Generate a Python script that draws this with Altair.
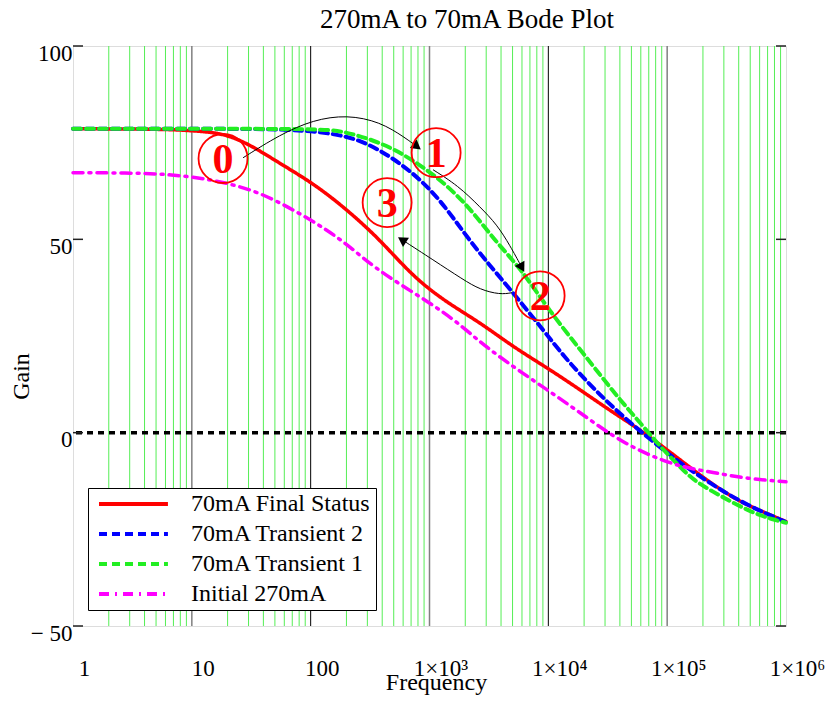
import altair as alt
import pandas as pd

FONT = "Liberation Serif"

TITLE = ["270mA to 70mA Bode Plot"]
X_TITLE = "Frequency"
Y_TITLE = "Gain"

# ---------------- series ----------------
series_names = ["70mA Final Status", "70mA Transient 2", "70mA Transient 1", "Initial 270mA"]
series_colors = ["#ff0000", "#0000ff", "#22ee22", "#ff00ff"]
series_dashes = [[1, 0], [8, 5], [8, 5], [10, 6, 2, 6]]
series_widths = [3.5, 4, 4, 3.5]

final_freq = [1, 6.2, 9.7, 17.3, 29.1, 55.2, 105, 202, 384, 727, 1404, 2662, 5047, 9750,
              18490, 35000, 55700, 99700, 165000, 243000, 358000, 527000, 1000000]
final_gain = [78.6, 78.5, 78.1, 77.6, 75.0, 69.6, 64.5, 57.7, 49.9, 40.3, 33.6, 28.5, 22.2, 16.8,
              11.1, 5.2, 1.3, -4.4, -9.6, -13.4, -16.8, -19.4, -23.0]

t2_freq = [1, 29.1, 71, 202, 384, 727, 1225, 1914, 2931, 5047, 9020, 13800, 21150, 31200,
           48700, 76000, 128000, 243000, 470000, 1000000]
t2_gain = [78.6, 78.6, 78.4, 77.1, 73.2, 67.3, 60.3, 52.0, 44.7, 36.2, 26.6, 19.4, 13.2, 8.0,
           2.6, -2.3, -7.8, -13.6, -18.8, -23.1]

t1_freq = [1, 29.1, 146, 202, 384, 727, 1404, 2324, 3700, 5780, 10330, 18490, 27200, 40100,
           59100, 87100, 128000, 165000, 243000, 358000, 527000, 778000, 1000000]
t1_gain = [78.6, 78.6, 78.5, 77.6, 75.2, 70.6, 64.1, 57.1, 49.0, 42.7, 31.3, 21.5, 15.0, 8.5,
           2.6, -3.6, -8.8, -12.2, -15.3, -18.1, -20.7, -22.5, -23.3]

init_freq = [1, 4.45, 10.2, 19.8, 37.5, 71, 137, 227, 384, 1404, 2662, 5047, 9750, 18490,
             35000, 67700, 128000, 243000, 470000, 1000000]
init_gain = [67.2, 67.2, 66.2, 64.6, 62.1, 57.7, 52.5, 47.5, 41.4, 31.0, 23.3, 17.1, 11.1, 5.2,
             -1.0, -5.7, -8.8, -10.3, -11.9, -12.7]

# ---------------- grid / ticks ----------------
decades = [1, 10, 100, 1000, 10000, 100000]
multipliers = [2, 3, 4, 5, 6, 7, 8, 9]
major_gray = [10, 1000, 100000]
major_black = [100, 10000]
x_tick_values = [1, 10, 100, 1000, 10000, 100000, 1000000]
y_tick_values = [-50, 0, 50, 100]
zero_level = [0]

# ---------------- annotations ----------------
circle_labels = ["0", "1", "2", "3"]
circle_freq = [18.3, 1137, 8530, 440]
circle_gain = [70.9, 72.4, 35.4, 59.5]

arrow_a_freq = [27.0, 55.2, 105, 202, 384, 622, 785]
arrow_a_gain = [71.1, 77.1, 80.9, 82.2, 80.4, 76.3, 74.0]
arrow_b_freq = [1071, 1738, 2662, 3700, 4757, 5998]
arrow_b_gain = [68.0, 63.9, 58.4, 53.8, 48.4, 42.7]
arrow_c_freq = [4945, 3920, 2662, 1914, 1071, 587]
arrow_c_gain = [36.2, 35.7, 37.0, 39.6, 44.7, 49.9]
head_freq = [785, 5998, 587]
head_gain = [74.0, 42.7, 49.9]
head_angle = [127, 151, 303]

# ---------------- tables ----------------
curve_rows = []
for name, fr, gn, w in zip(series_names,
                           [final_freq, t2_freq, t1_freq, init_freq],
                           [final_gain, t2_gain, t1_gain, init_gain],
                           series_widths):
    for f, g in zip(fr, gn):
        curve_rows.append({"series": name, "freq": f, "gain": g, "sw": w})
curves = pd.DataFrame(curve_rows)

minor_df = pd.DataFrame({"freq": [d * m for d in decades for m in multipliers]})
gray_df = pd.DataFrame({"freq": major_gray})
black_df = pd.DataFrame({"freq": major_black})
zero_df = pd.DataFrame({"gain": zero_level})
ytick_df = pd.DataFrame({"gain": y_tick_values})
title_df = pd.DataFrame({"t": TITLE})

arrow_rows = []
for aid, fr, gn in zip(["A", "B", "C"],
                       [arrow_a_freq, arrow_b_freq, arrow_c_freq],
                       [arrow_a_gain, arrow_b_gain, arrow_c_gain]):
    for i, (f, g) in enumerate(zip(fr, gn)):
        arrow_rows.append({"arrow": aid, "idx": i, "freq": f, "gain": g})
arrows = pd.DataFrame(arrow_rows)
heads = pd.DataFrame({"freq": head_freq, "gain": head_gain, "ang": head_angle})
circles = pd.DataFrame({"label": circle_labels, "freq": circle_freq, "gain": circle_gain})

# ---------------- scales / axes ----------------
x_scale = alt.Scale(type="log", domain=[1, 1000000], nice=False)
y_scale = alt.Scale(domain=[-50, 100], nice=False, zero=False)

x_label_expr = ("datum.value < 1000 ? format(datum.value, 'd') : "
                "('1×10' + (datum.value == 1000 ? '³' : datum.value == 10000 ? '⁴' : "
                "datum.value == 100000 ? '⁵' : '⁶'))")

x_axis = alt.Axis(values=x_tick_values, labelExpr=x_label_expr, grid=False, ticks=False,
                  tickSize=0, domain=False, labelFont=FONT, labelFontSize=23,
                  labelColor="black", labelPadding=49, labelBaseline="alphabetic",
                  labelOffset=11, labelFlush=False, labelOverlap=False,
                  title=X_TITLE, titleFont=FONT, titleFontSize=24, titleFontWeight="normal",
                  titleColor="black", titleX=363, titleY=63, titleAlign="center",
                  titleBaseline="alphabetic")
y_axis = alt.Axis(values=y_tick_values, labelExpr="datum.value < 0 ? '− 50' : datum.label",
                  grid=False, ticks=False, tickSize=0, domain=False, labelFont=FONT,
                  labelFontSize=23, labelColor="black", labelPadding=1, labelOffset=7,
                  labelFlush=False, labelOverlap=False, labelAlign="right",
                  labelBaseline="middle",
                  title=Y_TITLE, titleFont=FONT, titleFontSize=24, titleFontWeight="normal",
                  titleColor="black", titleAngle=270, titleX=-45, titleY=330,
                  titleAlign="center", titleBaseline="alphabetic")

X = alt.X("freq:Q", scale=x_scale, axis=x_axis)
Y = alt.Y("gain:Q", scale=y_scale, axis=y_axis)

legend = alt.Legend(title=None, orient="none", legendX=15, legendY=442,
                    symbolType="M0,0L12,0", symbolSize=132, symbolStrokeWidth=4,
                    symbolOffset=-5, labelOffset=80, labelFont=FONT, labelFontSize=24,
                    labelColor="black", labelLimit=400, padding=4, rowPadding=6,
                    strokeColor="black", fillColor="white")

# ---------------- layers ----------------
minor = alt.Chart(minor_df).mark_rule(color="#55ee55", strokeWidth=1).encode(x=X)
gray = alt.Chart(gray_df).mark_rule(color="#808080", strokeWidth=1.5).encode(x=X)
black = alt.Chart(black_df).mark_rule(color="#000000", strokeWidth=1).encode(x=X)
zero = alt.Chart(zero_df).mark_rule(color="black", strokeWidth=3.5,
                                    strokeDash=[6, 5]).encode(y=Y)

lines = alt.Chart(curves).mark_line(strokeCap="round", interpolate="basis").encode(
    x=X, y=Y,
    color=alt.Color("series:N", scale=alt.Scale(domain=series_names, range=series_colors),
                    legend=legend),
    strokeDash=alt.StrokeDash("series:N",
                              scale=alt.Scale(domain=series_names, range=series_dashes),
                              legend=legend),
    strokeWidth=alt.StrokeWidth("sw:Q", scale=None),
)

arrow_lines = alt.Chart(arrows).mark_line(interpolate="basis", color="black",
                                          strokeWidth=1).encode(
    x=X, y=Y, detail="arrow:N", order="idx:Q")
arrow_heads = alt.Chart(heads).mark_point(shape="triangle-up", filled=True, color="black",
                                          size=120, opacity=1).encode(
    x=X, y=Y, angle=alt.Angle("ang:Q", scale=None))
rings = alt.Chart(circles).mark_point(shape="circle", filled=False, color="#ff0000",
                                      size=2400, strokeWidth=1.8, opacity=1).encode(x=X, y=Y)
digits = alt.Chart(circles).mark_text(font=FONT, fontSize=42, fontWeight="bold",
                                      color="#ff0000", align="center",
                                      baseline="alphabetic", dy=14).encode(
    x=X, y=Y, text="label:N")

left_ticks = alt.Chart(ytick_df).mark_rule(color="#222222", strokeWidth=1.5).encode(
    y=Y, x=alt.value(0), x2=alt.value(10))
right_ticks = alt.Chart(ytick_df).mark_rule(color="#222222", strokeWidth=1.5).encode(
    y=Y, x=alt.value(703), x2=alt.value(713))

title_text = alt.Chart(title_df).mark_text(font=FONT, fontSize=27, color="black",
                                           align="center", baseline="alphabetic").encode(
    x=alt.value(394), y=alt.value(-18), text="t:N")

chart = alt.layer(
    minor, gray, black, zero, lines, arrow_lines, arrow_heads, rings, digits,
    left_ticks, right_ticks, title_text,
).properties(
    width=713, height=580,
    autosize=alt.AutoSizeParams(type="none"),
    padding={"left": 65, "top": 38, "right": 40, "bottom": 75},
).configure_view(stroke="#222222", strokeWidth=1.5).configure(background="white")

chart.save("out.html", embed_options={"renderer": "svg", "actions": False})
